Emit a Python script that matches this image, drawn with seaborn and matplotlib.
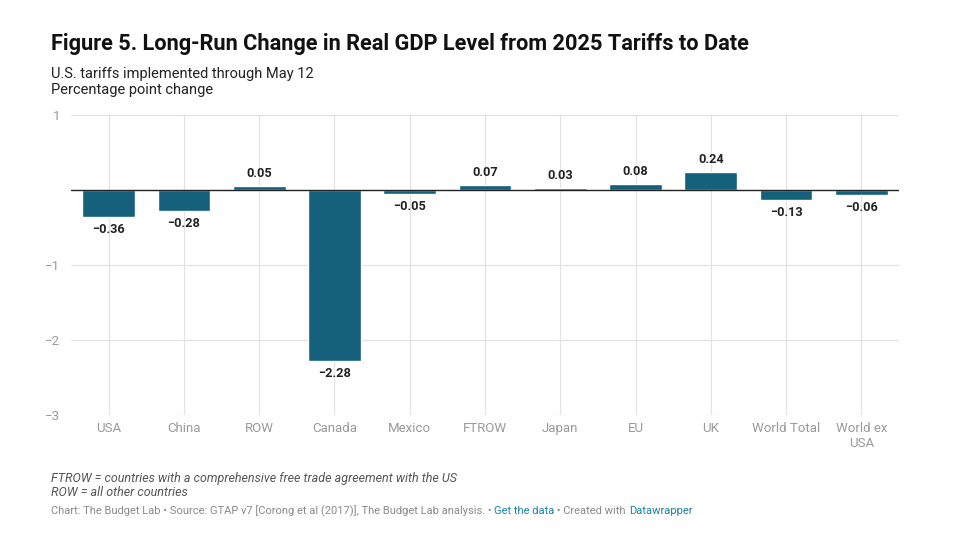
import matplotlib.pyplot as plt
import seaborn as sns
import pandas as pd

# data
regions = ["USA", "China", "ROW", "Canada", "Mexico", "FTROW", "Japan", "EU", "UK",
           "World Total", "World ex\nUSA"]
gdp_change = [-0.36, -0.28, 0.05, -2.28, -0.05, 0.07, 0.03, 0.08, 0.24, -0.13, -0.06]
y_ticks = [1, 0, -1, -2, -3]
y_tick_labels = ["1", "", "\u22121", "\u22122", "\u22123"]

BAR_COLOR = "#15607a"

sns.set_theme(style="white")
plt.rcParams["font.family"] = ["Roboto", "DejaVu Sans"]

df = pd.DataFrame({"region": regions, "change": gdp_change})

fig = plt.figure(figsize=(9.57, 5.42), dpi=100)
ax = fig.add_axes([0.0742, 0.2343, 0.8652, 0.5535])

sns.barplot(data=df, x="region", y="change", color=BAR_COLOR, width=0.7,
            saturation=1, ax=ax, zorder=3)

ax.set_ylim(-3, 1)
ax.set_xlim(-0.5, len(regions) - 0.5)
ax.set_yticks(y_ticks)
ax.set_yticklabels(y_tick_labels)
ax.set_xlabel("")
ax.set_ylabel("")

# grid
for yv in y_ticks:
    if yv != 0:
        ax.axhline(yv, color="#e3e3e3", lw=0.9, zorder=0)
for i in range(len(regions)):
    ax.axvline(i, color="#e3e3e3", lw=0.9, zorder=0)
ax.axhline(0, color="#222222", lw=1.0, zorder=4)

for s in ax.spines.values():
    s.set_visible(False)
ax.tick_params(axis="both", length=0, colors="#9a9a9a", labelsize=9.5)
ax.tick_params(axis="y", pad=8)
ax.tick_params(axis="x", pad=5)

# value labels
for i, v in enumerate(gdp_change):
    label = f"{v:.2f}".replace("-", "\u2212")
    if v >= 0:
        ax.text(i, v + 0.08, label, ha="center", va="bottom", fontsize=9.2,
                fontweight="bold", color="#222222", zorder=5)
    else:
        ax.text(i, v - 0.08, label, ha="center", va="top", fontsize=9.2,
                fontweight="bold", color="#222222", zorder=5)

# titles
fig.text(0.053, 0.908, "Figure 5. Long-Run Change in Real GDP Level from 2025 Tariffs to Date",
         fontsize=15.7, fontweight="bold", color="#111111", va="baseline")
fig.text(0.053, 0.857, "U.S. tariffs implemented through May 12", fontsize=10.5,
         color="#222222", va="baseline")
fig.text(0.053, 0.826, "Percentage point change", fontsize=10.5,
         color="#222222", va="baseline")

# notes
fig.text(0.053, 0.111, "FTROW = countries with a comprehensive free trade agreement with the US",
         fontsize=9, style="italic", color="#555555", va="baseline")
fig.text(0.053, 0.085, "ROW = all other countries", fontsize=9, style="italic",
         color="#555555", va="baseline")

# credits line
parts = [("Chart: The Budget Lab \u2022 Source: GTAP v7 [Corong et al (2017)], The Budget Lab analysis. \u2022 ", "#8a8a8a"),
         ("Get the data", "#1d81a2"),
         (" \u2022 Created with ", "#8a8a8a"),
         ("Datawrapper", "#1d81a2")]
fig.canvas.draw()
renderer = fig.canvas.get_renderer()
x = 0.053
for txt, col in parts:
    t = fig.text(x, 0.051, txt, fontsize=8, color=col, va="baseline")
    bb = t.get_window_extent(renderer=renderer)
    x += bb.width / fig.bbox.width

fig.savefig("out.png", dpi=100)
